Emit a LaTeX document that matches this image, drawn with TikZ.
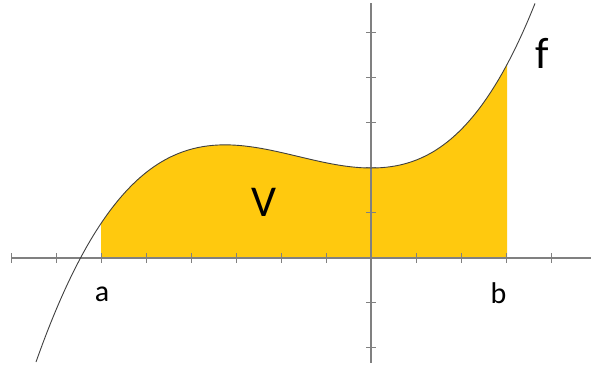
\documentclass[tikz,border=0pt]{standalone}
\usepackage{fontspec}
\setmainfont{Carlito}
\definecolor{areafill}{RGB}{255,201,14}
\definecolor{axisgray}{RGB}{128,128,128}
\definecolor{curvegray}{RGB}{64,64,64}
\begin{document}
\begin{tikzpicture}[x=1pt,y=-1pt,
  axisline/.style={draw=axisgray,line width=1.3pt},
  tickline/.style={draw=axisgray,line width=1pt},
  curveline/.style={draw=curvegray,line width=0.9pt},
  smalllabel/.style={inner sep=0pt,font=\fontsize{30}{30}\selectfont},
  biglabel/.style={inner sep=0pt,font=\fontsize{44}{44}\selectfont}]
\useasboundingbox (0,0) rectangle (591,365);
\coordinate (c0) at (36,362);
\coordinate (cm) at (371,168);
\coordinate (c1) at (535,3.4);
% area
\begin{scope}
  \clip (101,258) rectangle (507,0);
  \fill[areafill] (c0) .. controls (147.7,46) and (259.4,168) .. (cm)
    .. controls (425.7,168) and (480.3,140.7) .. (c1)
    -- (535,258) -- (36,258) -- cycle;
\end{scope}
% axes
\coordinate (xl) at (11,258);
\coordinate (xr) at (591,258);
\coordinate (yt) at (371,3);
\coordinate (yb) at (371,363);
\draw[axisline] (xl) -- (xr);
\draw[axisline] (yt) -- (yb);
\foreach \k in {0,...,12}
  \draw[tickline] (11+45*\k,253) -- (11+45*\k,263);
\foreach \k in {0,...,7}
  \draw[tickline] (366,32.7+45*\k) -- (376,32.7+45*\k);
% curve
\draw[curveline] (c0) .. controls (147.7,46) and (259.4,168) .. (cm)
  .. controls (425.7,168) and (480.3,140.7) .. (c1);
% labels
\node[smalllabel] (la) at (102,294.5) {a};
\node[smalllabel] (lb) at (498.5,293.5) {b};
\node[biglabel] (lf) at (542.5,53) {f};
\node[biglabel] (lv) at (264,202) {V};
\end{tikzpicture}
\end{document}
